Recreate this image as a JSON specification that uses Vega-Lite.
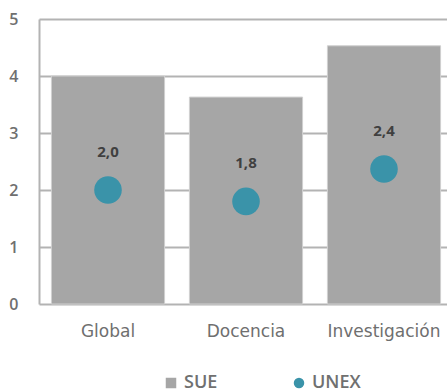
{
  "$schema": "https://vega.github.io/schema/vega-lite/v6.json",
  "width": 408,
  "height": 285,
  "autosize": {"type": "none"},
  "padding": {"left": 39, "top": 19, "right": 0, "bottom": 88},
  "data": {
    "values": [
      {"cat": "Global", "sue": 4.0, "unex": 2.0, "label": "2,0"},
      {"cat": "Docencia", "sue": 3.63, "unex": 1.8, "label": "1,8"},
      {"cat": "Investigación", "sue": 4.53, "unex": 2.37, "label": "2,4"}
    ]
  },
  "encoding": {
    "x": {
      "field": "cat", "type": "nominal", "sort": null,
      "scale": {"range": [0, 414], "paddingInner": 0.18, "paddingOuter": 0.09},
      "axis": {"title": null, "labelAngle": 0, "domain": false, "ticks": false, "labelPadding": 19,
        "labelFont": "DejaVu Sans", "labelFontSize": 17, "labelColor": "#6f6f6f"}
    }
  },
  "layer": [
    {
      "mark": {"type": "bar", "stroke": "#d0d0d0", "strokeWidth": 1},
      "encoding": {
        "y": {"field": "sue", "type": "quantitative",
          "scale": {"domain": [0, 5]},
          "axis": {"title": null, "values": [0, 1, 2, 3, 4, 5], "format": "d", "grid": true, "gridColor": "#b3b3b3", "gridWidth": 2,
            "domain": true, "domainColor": "#b3b3b3", "domainWidth": 2, "ticks": false, "labelPadding": 21,
            "labelFont": "Open Sans", "labelFontSize": 16, "labelFontWeight": 600, "labelColor": "#6f6f6f"}},
        "color": {"datum": "SUE", "type": "nominal",
          "scale": {"domain": ["SUE", "UNEX"], "range": ["#a6a6a6", "#3a93a9"]}
        }
      }
    },
    {
      "mark": {"type": "point", "filled": true, "size": 760, "opacity": 1},
      "encoding": {
        "y": {"field": "unex", "type": "quantitative"},
        "color": {"datum": "UNEX", "type": "nominal"},
        "shape": {"datum": "UNEX", "type": "nominal",
          "scale": {"domain": ["SUE", "UNEX"], "range": ["square", "circle"]}}
      }
    },
    {
      "mark": {"type": "text", "dy": -38, "font": "Open Sans", "fontSize": 15, "fontWeight": "bold", "color": "#404040"},
      "encoding": {
        "y": {"field": "unex", "type": "quantitative"},
        "text": {"field": "label"}
      }
    }
  ],
  "config": {
    "view": {"stroke": null},
    "legend": {"title": null, "orient": "none", "legendX": 123, "legendY": 355, "direction": "horizontal",
      "padding": 0, "columnPadding": 72, "symbolSize": 110, "labelOffset": 4, "symbolStrokeWidth": 0,
      "labelFont": "Open Sans", "labelFontSize": 18, "labelFontWeight": 600, "labelColor": "#707070"}
  }
}
